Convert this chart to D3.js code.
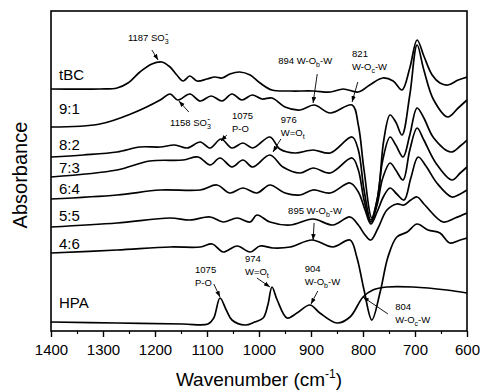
<!DOCTYPE html>
<html>
<head>
<meta charset="utf-8">
<script src="https://cdn.jsdelivr.net/npm/d3@7"></script>
<style>
  body { margin: 0; background: #fff; }
  text { font-family: "Liberation Sans", Arial, sans-serif; fill: #000; }
</style>
</head>
<body>
<svg id="chart" width="482" height="391"></svg>
<script>
// spectra as [wavenumber (cm-1), absorbance (offset, a.u.)]
const tBC = [[1400,2.42],[1306,2.42],[1273,2.43],[1252,2.48],[1229,2.59],[1206,2.67],[1187,2.69],[1171,2.64],[1158,2.56],[1146,2.50],[1133,2.55],[1119,2.50],[1100,2.52],[1085,2.54],[1071,2.53],[1056,2.57],[1037,2.59],[1017,2.56],[998,2.48],[975,2.41],[940,2.40],[896,2.40],[863,2.39],[838,2.42],[809,2.39],[787,2.46],[762,2.53],[742,2.50],[725,2.41],[710,2.63],[696,2.91],[683,2.75],[667,2.56],[652,2.48],[637,2.46],[617,2.51],[600,2.54]]
const r91 = [[1400,2.04],[1306,2.07],[1242,2.18],[1190,2.31],[1171,2.37],[1156,2.31],[1133,2.37],[1113,2.30],[1092,2.35],[1071,2.30],[1052,2.37],[1033,2.31],[1013,2.36],[994,2.32],[975,2.33],[950,2.24],[921,2.21],[894,2.26],[863,2.18],[821,2.26],[809,2.06],[798,1.61],[783,1.13],[771,1.36],[760,1.91],[748,2.16],[737,2.09],[725,1.96],[710,2.36],[696,2.86],[683,2.61],[664,2.31],[637,2.14],[617,2.23],[600,2.31]]
const r82 = [[1400,1.74],[1338,1.76],[1273,1.79],[1229,1.84],[1190,1.84],[1162,1.86],[1138,1.83],[1113,1.89],[1094,1.83],[1073,1.92],[1052,1.83],[1031,1.88],[1012,1.83],[979,1.94],[960,1.82],[931,1.78],[896,1.81],[863,1.78],[821,1.94],[809,1.81],[798,1.41],[785,1.11],[773,1.31],[762,1.71],[748,1.94],[737,1.86],[723,1.74],[710,1.96],[696,2.23],[683,2.13],[664,1.93],[631,1.79],[613,1.85],[600,1.91]]
const r73 = [[1400,1.54],[1273,1.61],[1210,1.70],[1146,1.71],[1117,1.74],[1094,1.66],[1075,1.73],[1052,1.64],[1031,1.71],[1012,1.64],[979,1.76],[954,1.64],[921,1.58],[896,1.63],[863,1.58],[821,1.73],[809,1.61],[798,1.31],[785,1.09],[773,1.26],[762,1.53],[748,1.68],[737,1.61],[723,1.51],[710,1.81],[696,2.03],[683,1.91],[660,1.68],[629,1.51],[613,1.58],[600,1.64]]
const r64 = [[1400,1.32],[1273,1.36],[1190,1.41],[1113,1.41],[1081,1.46],[1056,1.38],[1031,1.43],[1004,1.38],[979,1.46],[950,1.38],[921,1.36],[896,1.41],[863,1.38],[825,1.48],[809,1.39],[796,1.21],[785,1.07],[773,1.19],[760,1.35],[748,1.43],[735,1.37],[721,1.31],[708,1.53],[694,1.74],[679,1.65],[658,1.48],[629,1.34],[613,1.37],[600,1.41]]
const r55 = [[1400,1.04],[1273,1.08],[1171,1.13],[1133,1.11],[1094,1.14],[1069,1.09],[1042,1.13],[1017,1.09],[1004,1.16],[979,1.09],[940,1.06],[896,1.12],[858,1.06],[825,1.14],[809,1.06],[796,0.96],[785,0.91],[771,1.03],[754,1.21],[735,1.27],[721,1.26],[708,1.31],[696,1.34],[681,1.26],[646,1.09],[623,1.13],[600,1.18]]
const r46 = [[1400,0.78],[1273,0.81],[1171,0.84],[1113,0.84],[1090,0.87],[1069,0.79],[1042,0.85],[1017,0.79],[998,0.85],[973,0.83],[940,0.84],[898,0.91],[858,0.84],[825,0.91],[812,0.74],[798,0.41],[783,0.11],[767,0.39],[752,0.74],[735,0.94],[715,0.99],[696,1.07],[675,1.01],[652,0.98],[633,0.88],[613,0.91],[600,0.93]]
const HPA = [[1400,0.09],[1273,0.08],[1146,0.07],[1098,0.07],[1087,0.13],[1075,0.33],[1063,0.21],[1052,0.11],[1027,0.06],[1008,0.09],[992,0.13],[983,0.26],[975,0.44],[965,0.31],[946,0.13],[927,0.18],[902,0.26],[883,0.18],[850,0.08],[825,0.14],[800,0.34],[781,0.41],[754,0.44],[704,0.44],[639,0.41],[600,0.38]]

const seriesNames = ['tBC', '9:1', '8:2', '7:3', '6:4', '5:5', '4:6', 'HPA']
const seriesData = [tBC, r91, r82, r73, r64, r55, r46, HPA]
// absorbance where each name label sits (left of the plot)
const labelLevels = [2.51, 2.17, 1.81, 1.58, 1.37, 1.10, 0.82, 0.23]

const majorTicks = [1400, 1300, 1200, 1100, 1000, 900, 800, 700, 600]
const minorTicks = [1350, 1250, 1150, 1050, 950, 850, 750, 650]

// band assignments: text lines, text anchor, arrow [from, to]
const annotations = [
  {lines: [[['1187 SO', ''], ['3', 'sub'], ['-', 'sup']]], at: [1252, 2.90], arrow: [[1206, 2.81], [1194, 2.71]]},
  {lines: [[['1158 SO', ''], ['3', 'sub'], ['-', 'sup']]], at: [1171, 2.05], arrow: [[1135, 2.19], [1154, 2.30]]},
  {lines: [[['1075', '']], [['P-O', '']]], at: [1052, 2.12], arrow: [[1062, 1.96], [1073, 1.90]]},
  {lines: [[['976', '']], [['W=O', ''], ['t', 'sub']]], at: [958, 2.08], arrow: [[958, 1.92], [973, 1.79]]},
  {lines: [[['894 W-O', ''], ['b', 'sub'], ['-W', '']]], at: [963, 2.67], arrow: [[888, 2.57], [896, 2.28]]},
  {lines: [[['821', '']], [['W-O', ''], ['c', 'sub'], ['-W', '']]], at: [821, 2.74], arrow: [[810, 2.49], [821, 2.29]]},
  {lines: [[['895 W-O', ''], ['b', 'sub'], ['-W', '']]], at: [944, 1.17], arrow: [[894, 1.08], [896, 0.91]]},
  {lines: [[['974', '']], [['W=O', ''], ['t', 'sub']]], at: [1027, 0.69], arrow: [[1004, 0.53], [979, 0.44]]},
  {lines: [[['904', '']], [['W-O', ''], ['b', 'sub'], ['-W', '']]], at: [912, 0.59], arrow: [[887, 0.40], [900, 0.27]]},
  {lines: [[['804', '']], [['W-O', ''], ['c', 'sub'], ['-W', '']]], at: [738, 0.21], arrow: [[752, 0.17], [800, 0.34]]},
  {lines: [[['1075', '']], [['P-O', '']]], at: [1123, 0.58], arrow: [[1087, 0.47], [1075, 0.34]]}
]

const width = 482
const height = 391
const margin = {top: 11, right: 15, bottom: 60, left: 51}

const svg = d3.select('#chart')

const x = d3.scaleLinear()
  .domain([1400, 600])
  .range([margin.left, width - margin.right])

const y = d3.scaleLinear()
  .domain([0, 3.2])
  .range([height - margin.bottom, margin.top])

svg.append('defs')
  .call(defs => defs.append('clipPath').attr('id', 'plot-clip')
    .append('rect')
    .attr('x', margin.left).attr('y', margin.top)
    .attr('width', width - margin.left - margin.right)
    .attr('height', height - margin.top - margin.bottom))
  .call(defs => defs.append('marker')
    .attr('id', 'arrow-head')
    .attr('viewBox', '0 0 8 6')
    .attr('refX', 8).attr('refY', 3)
    .attr('markerWidth', 6).attr('markerHeight', 5)
    .attr('markerUnits', 'userSpaceOnUse')
    .attr('orient', 'auto')
    .append('path').attr('d', 'M0,0L8,3L0,6Z').attr('fill', '#000'))

const line = d3.line()
  .x(d => x(d[0]))
  .y(d => y(d[1]))
  .curve(d3.curveCatmullRom.alpha(0.5))

svg.append('g')
  .attr('clip-path', 'url(#plot-clip)')
  .selectAll('path')
  .data(seriesData)
  .join('path')
  .attr('fill', 'none')
  .attr('stroke', '#000')
  .attr('stroke-width', 1.7)
  .attr('stroke-linejoin', 'round')
  .attr('d', line)

// series names
svg.append('g')
  .selectAll('text')
  .data(seriesNames)
  .join('text')
  .attr('x', 59)
  .attr('y', (d, i) => y(labelLevels[i]))
  .attr('font-size', 15)
  .text(d => d)

// annotations
const ann = svg.append('g').attr('font-size', 9.5)
annotations.forEach(a => {
  a.lines.forEach((parts, li) => {
    const t = ann.append('text')
      .attr('x', x(a.at[0]))
      .attr('y', y(a.at[1]) + li * 13)
    let shift = 0
    parts.forEach(([str, mode]) => {
      const span = t.append('tspan').text(str)
      let target = 0
      if (mode === 'sub') {
        target = 2.5
        span.attr('font-size', 7)
      } else if (mode === 'sup') {
        target = -4.5
        span.attr('font-size', 8.5).attr('dx', -3.5)
      }
      span.attr('dy', target - shift)
      shift = target
    })
  })
  ann.append('line')
    .attr('x1', x(a.arrow[0][0])).attr('y1', y(a.arrow[0][1]))
    .attr('x2', x(a.arrow[1][0])).attr('y2', y(a.arrow[1][1]))
    .attr('stroke', '#000')
    .attr('stroke-width', 0.9)
    .attr('marker-end', 'url(#arrow-head)')
})

// frame
svg.append('rect')
  .attr('x', margin.left).attr('y', margin.top)
  .attr('width', width - margin.left - margin.right)
  .attr('height', height - margin.top - margin.bottom)
  .attr('fill', 'none')
  .attr('stroke', '#000')
  .attr('stroke-width', 1.6)

const xAxis = svg.append('g')
  .attr('transform', `translate(0,${height - margin.bottom})`)
  .call(d3.axisBottom(x).tickValues(majorTicks).tickSize(6).tickPadding(7).tickFormat(d3.format('d')))
  .call(g => g.select('.domain').remove())
xAxis.selectAll('line').attr('stroke-width', 1.4)
xAxis.selectAll('text').attr('font-size', 15).attr('font-family', '"Liberation Sans", Arial, sans-serif')

svg.append('g')
  .attr('transform', `translate(0,${height - margin.bottom})`)
  .call(d3.axisBottom(x).tickValues(minorTicks).tickSize(3).tickFormat(''))
  .call(g => g.select('.domain').remove())
  .selectAll('line').attr('stroke-width', 1.2)

svg.append('text')
  .attr('x', (margin.left + width - margin.right) / 2)
  .attr('y', 386)
  .attr('text-anchor', 'middle')
  .attr('font-size', 19)
  .call(t => t.append('tspan').text('Wavenumber (cm'))
  .call(t => t.append('tspan').attr('font-size', 12).attr('dy', -8).text('-1'))
  .call(t => t.append('tspan').attr('dy', 8).text(')'))

svg.append('text')
  .attr('transform', `translate(27,${(margin.top + height - margin.bottom) / 2 + 4}) rotate(-90)`)
  .attr('text-anchor', 'middle')
  .attr('font-size', 20)
  .text('Absorbance')
</script>
</body>
</html>
